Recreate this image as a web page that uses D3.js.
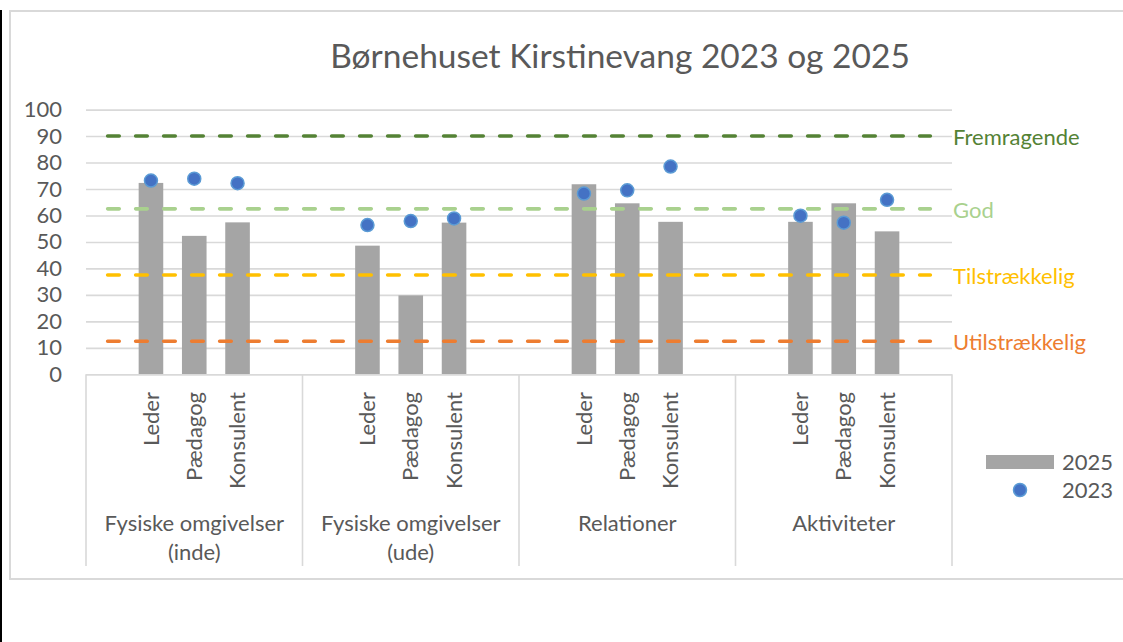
<!DOCTYPE html>
<html>
<head>
<meta charset="utf-8">
<script src="https://cdn.jsdelivr.net/npm/d3@7"></script>
<style>
  html, body { margin: 0; padding: 0; background: #fff; }
  svg { display: block; font-family: Lato, "Open Sans", sans-serif; }
</style>
</head>
<body>
<svg id="chart" width="1123" height="642"></svg>
<script>
// ---------- data ----------
const title = "Børnehuset Kirstinevang 2023 og 2025";
const groups = ["Fysiske omgivelser\n(inde)", "Fysiske omgivelser\n(ude)", "Relationer", "Aktiviteter"];
const roles = ["Leder", "Pædagog", "Konsulent"];
const values2025 = [
  [72.3, 52.3, 57.4],
  [48.6, 29.8, 57.3],
  [71.8, 64.6, 57.6],
  [57.6, 64.6, 54.0]
];
const values2023 = [
  [73.2, 73.9, 72.2],
  [56.4, 57.9, 58.9],
  [68.3, 69.5, 78.5],
  [59.9, 57.3, 65.9]
];
const yTicks = [0, 10, 20, 30, 40, 50, 60, 70, 80, 90, 100];
const refValues = [90, 62.5, 37.5, 12.5];
const refLabels = ["Fremragende", "God", "Tilstrækkelig", "Utilstrækkelig"];
const refColors = ["#548235", "#A9D18E", "#FFC000", "#ED7D31"];
const seriesNames = ["2025", "2023"];

// ---------- layout ----------
const svg = d3.select("#chart");
const plotLeft = 86, plotRight = 952, plotTop = 109.6, plotBottom = 374.3;
const textColor = "#595959";
const gridColor = "#D9D9D9";
const barColor = "#A5A5A5";
const dotFill = "#4472C4", dotStroke = "#5B9BD5";
const fs = 22;

// background + frame
svg.append("rect").attr("x", 0).attr("y", 0).attr("width", 1123).attr("height", 642).attr("fill", "#fff");
svg.append("rect").attr("x", 10).attr("y", 11).attr("width", 1130).attr("height", 568)
  .attr("fill", "none").attr("stroke", gridColor).attr("stroke-width", 2);
svg.append("rect").attr("x", 0).attr("y", 10).attr("width", 2).attr("height", 632).attr("fill", "#000");

const y = d3.scaleLinear().domain([0, 100]).range([plotBottom, plotTop]);
const x0 = d3.scaleBand().domain(groups).range([plotLeft, plotRight]).padding(0);
const x1 = d3.scalePoint().domain(roles).range([0, x0.bandwidth()]).padding(1.5);
const barW = x1.step() * 0.568;

// title
svg.append("text").attr("x", 620).attr("y", 68).attr("text-anchor", "middle")
  .attr("font-size", 33.5).attr("fill", textColor).text(title);

// y axis with gridlines
const yAxis = d3.axisLeft(y).tickValues(yTicks).tickSize(-(plotRight - plotLeft)).tickPadding(24);
const yg = svg.append("g").attr("transform", `translate(${plotLeft},0)`).call(yAxis);
yg.select(".domain").remove();
yg.selectAll(".tick line").attr("stroke", gridColor).attr("stroke-width", 1.6);
yg.selectAll(".tick text").attr("fill", textColor).attr("font-size", fs)
  .attr("font-family", "Lato, sans-serif");

// bars (2025)
const flat = [];
groups.forEach((g, gi) => roles.forEach((r, ri) => flat.push({
  g, r, v25: values2025[gi][ri], v23: values2023[gi][ri]
})));
svg.append("g").selectAll("rect").data(flat).join("rect")
  .attr("x", d => x0(d.g) + x1(d.r) - barW / 2)
  .attr("y", d => y(d.v25))
  .attr("width", barW)
  .attr("height", d => y(0) - y(d.v25))
  .attr("fill", barColor);

// reference lines
const lineX0 = x0(groups[0]) + x1.step() * 0.5;
const lineX1 = x0(groups[groups.length - 1]) + x0.bandwidth() - x1.step() * 0.5;
refValues.forEach((v, i) => {
  svg.append("line")
    .attr("x1", lineX0).attr("x2", lineX1)
    .attr("y1", y(v)).attr("y2", y(v))
    .attr("stroke", refColors[i]).attr("stroke-width", 3.6)
    .attr("stroke-linecap", "round")
    .attr("stroke-dasharray", "11.6,16.4");
  svg.append("text")
    .attr("x", plotRight + 1).attr("y", y(v) + 1).attr("dy", "0.35em")
    .attr("font-size", fs).attr("fill", refColors[i]).text(refLabels[i]);
});

// dots (2023)
svg.append("g").selectAll("circle").data(flat).join("circle")
  .attr("cx", d => x0(d.g) + x1(d.r))
  .attr("cy", d => y(d.v23))
  .attr("r", 6.5)
  .attr("fill", dotFill)
  .attr("stroke", dotStroke).attr("stroke-width", 1.5);

// x axis: baseline + separators
const sepY2 = 566;
svg.append("line").attr("x1", plotLeft).attr("x2", plotRight).attr("y1", plotBottom + 0.5).attr("y2", plotBottom + 0.5)
  .attr("stroke", gridColor).attr("stroke-width", 1.6);
const seps = groups.map(g => x0(g)).concat([plotRight]);
svg.append("g").selectAll("line").data(seps).join("line")
  .attr("x1", d => d).attr("x2", d => d)
  .attr("y1", plotBottom).attr("y2", sepY2)
  .attr("stroke", gridColor).attr("stroke-width", 1.6);

// role labels (rotated)
svg.append("g").selectAll("text").data(flat).join("text")
  .attr("transform", d => `translate(${x0(d.g) + x1(d.r)},392) rotate(-90)`)
  .attr("text-anchor", "end").attr("dy", "0.35em")
  .attr("font-size", fs).attr("fill", textColor).text(d => d.r);

// group labels
groups.forEach(g => {
  const lines = g.split("\n");
  const t = svg.append("text").attr("text-anchor", "middle")
    .attr("font-size", fs).attr("fill", textColor);
  lines.forEach((ln, li) => {
    t.append("tspan").attr("x", x0(g) + x0.bandwidth() / 2)
      .attr("y", 523 + li * 29).attr("dy", "0.35em").text(ln);
  });
});

// legend
const lg = svg.append("g");
lg.append("rect").attr("x", 986).attr("y", 455).attr("width", 68).attr("height", 14).attr("fill", barColor);
lg.append("circle").attr("cx", 1020).attr("cy", 490).attr("r", 6.5)
  .attr("fill", dotFill).attr("stroke", dotStroke).attr("stroke-width", 1.5);
seriesNames.forEach((s, i) => {
  lg.append("text").attr("x", 1062).attr("y", 462 + i * 28.5).attr("dy", "0.35em")
    .attr("font-size", fs).attr("fill", textColor).text(s);
});
</script>
</body>
</html>
